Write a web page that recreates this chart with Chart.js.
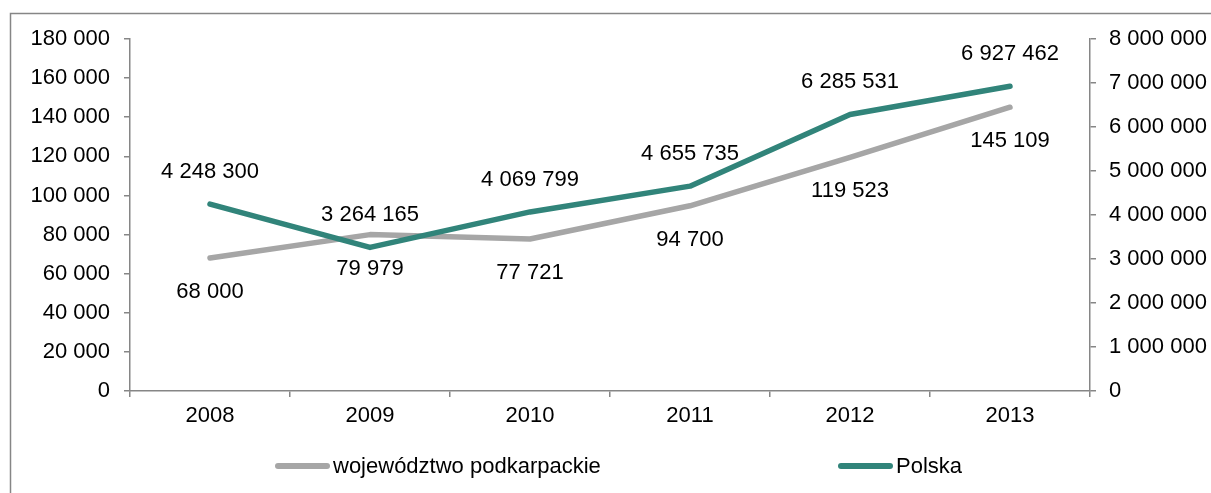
<!DOCTYPE html>
<html lang="pl">
<head>
<meta charset="utf-8">
<script src="https://cdn.jsdelivr.net/npm/chart.js@4"></script>
<style>
  body { margin: 0; background: #fff; }
  canvas { display: block; }
</style>
</head>
<body>
<canvas id="wykres" width="1211" height="493"></canvas>
<script>
const lata = ['2008', '2009', '2010', '2011', '2012', '2013'];
const podkarpackie = [68000, 79979, 77721, 94700, 119523, 145109];
const polska = [4248300, 3264165, 4069799, 4655735, 6285531, 6927462];
const osLewa = [0, 20000, 40000, 60000, 80000, 100000, 120000, 140000, 160000, 180000];
const osPrawa = [0, 1000000, 2000000, 3000000, 4000000, 5000000, 6000000, 7000000, 8000000];

const SZARY = '#a6a6a6';
const ZIELONY = '#31847a';
const OS = '#868686';
const FONT = { family: '"Liberation Sans", Arial, sans-serif', size: 22 };

// 1234567 -> "1 234 567"
function liczba(v) {
    return String(v).replace(/\B(?=(\d{3})+(?!\d))/g, ' ');
}

// ramka wokół całego wykresu
const ramka = {
    id: 'ramka',
    beforeDraw(chart) {
        const c = chart.ctx;
        c.save();
        c.fillStyle = '#fff';
        c.fillRect(0, 0, chart.width, chart.height);
        c.strokeStyle = OS;
        c.lineWidth = 1.5;
        c.beginPath();
        c.moveTo(10.5, chart.height);
        c.lineTo(10.5, 13.5);
        c.lineTo(chart.width, 13.5);
        c.stroke();
        c.restore();
    }
};

// etykiety wartości nad / pod punktami
const etykiety = {
    id: 'etykiety',
    afterDatasetsDraw(chart) {
        const c = chart.ctx;
        c.save();
        c.font = FONT.size + 'px ' + FONT.family;
        c.fillStyle = '#000';
        c.textAlign = 'center';
        c.textBaseline = 'middle';
        chart.data.datasets.forEach((ds, i) => {
            chart.getDatasetMeta(i).data.forEach((pt, j) => {
                c.fillText(liczba(ds.data[j]), pt.x, pt.y + ds.przesuniecie);
            });
        });
        c.restore();
    }
};

// legenda na dole, dwie kolumny
const legenda = {
    id: 'legenda',
    afterDraw(chart) {
        const c = chart.ctx;
        const y = 466;
        const kolumny = [275, 838];
        c.save();
        c.font = FONT.size + 'px ' + FONT.family;
        c.textBaseline = 'middle';
        c.lineCap = 'round';
        chart.data.datasets.forEach((ds, i) => {
            const x = kolumny[i];
            c.strokeStyle = ds.borderColor;
            c.lineWidth = 6;
            c.beginPath();
            c.moveTo(x + 3, y);
            c.lineTo(x + 52, y);
            c.stroke();
            c.fillStyle = '#000';
            c.fillText(ds.label, x + 58, y + 1);
        });
        c.restore();
    }
};

new Chart(document.getElementById('wykres'), {
    type: 'line',
    data: {
        labels: lata,
        datasets: [{
            label: 'województwo podkarpackie',
            data: podkarpackie,
            yAxisID: 'y',
            borderColor: SZARY,
            backgroundColor: SZARY,
            przesuniecie: 34,
            order: 1
        }, {
            label: 'Polska',
            data: polska,
            yAxisID: 'y1',
            borderColor: ZIELONY,
            backgroundColor: ZIELONY,
            przesuniecie: -32,
            order: 0
        }]
    },
    options: {
        responsive: false,
        animation: false,
        layout: { padding: { top: 39, left: 0, right: 0, bottom: 0 } },
        elements: {
            line: { borderWidth: 5.5, tension: 0, borderCapStyle: 'round', borderJoinStyle: 'round' },
            point: { radius: 0, hoverRadius: 0 }
        },
        plugins: {
            legend: { display: false },
            tooltip: { enabled: false }
        },
        scales: {
            x: {
                offset: true,
                afterFit: s => { s.height = 102; },
                grid: { offset: true, drawOnChartArea: false, drawTicks: true, tickLength: 6, color: OS, lineWidth: 1.5 },
                border: { display: true, color: OS, width: 1.5 },
                ticks: { color: '#000', font: FONT, padding: 6, maxRotation: 0 }
            },
            y: {
                position: 'left',
                min: 0,
                max: 180000,
                afterFit: s => { s.width = 130; },
                afterBuildTicks: s => { s.ticks = osLewa.map(v => ({ value: v })); },
                grid: { drawOnChartArea: false, drawTicks: true, tickLength: 6, color: OS, lineWidth: 1.5 },
                border: { display: true, color: OS, width: 1.5 },
                ticks: { color: '#000', font: FONT, padding: 14, callback: v => liczba(v) }
            },
            y1: {
                position: 'right',
                min: 0,
                max: 8000000,
                afterFit: s => { s.width = 121; },
                afterBuildTicks: s => { s.ticks = osPrawa.map(v => ({ value: v })); },
                grid: { drawOnChartArea: false, drawTicks: true, tickLength: 6, color: OS, lineWidth: 1.5 },
                border: { display: true, color: OS, width: 1.5 },
                ticks: { color: '#000', font: FONT, padding: 13, callback: v => liczba(v) }
            }
        }
    },
    plugins: [ramka, etykiety, legenda]
});
</script>
</body>
</html>
